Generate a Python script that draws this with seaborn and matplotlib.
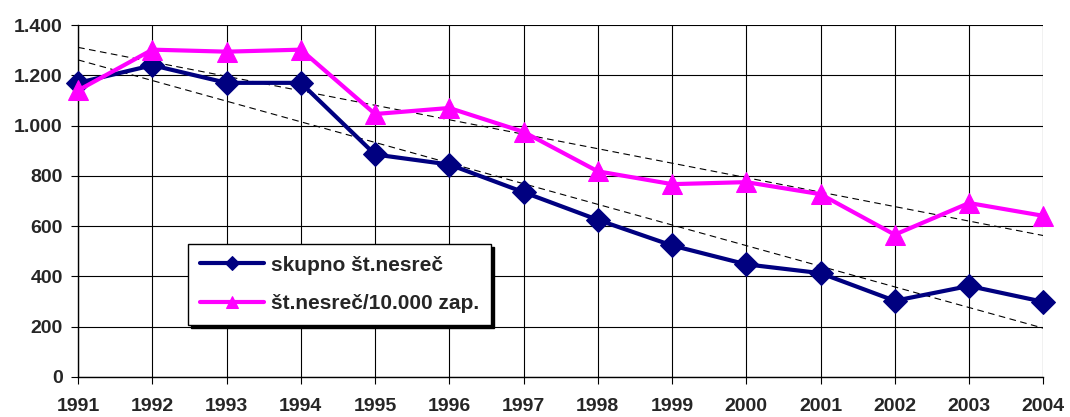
import numpy as np
import pandas as pd
import matplotlib
matplotlib.use("Agg")
import matplotlib.pyplot as plt
from matplotlib.ticker import FuncFormatter
import seaborn as sns

sns.set_style("white")
plt.rcParams['font.family'] = ['Liberation Sans', 'DejaVu Sans']

# data
years = [1991, 1992, 1993, 1994, 1995, 1996, 1997, 1998, 1999, 2000, 2001, 2002, 2003, 2004]
skupno = [1170, 1240, 1170, 1170, 885, 845, 735, 625, 523, 448, 413, 303, 362, 299]
na_10000 = [1140, 1302, 1294, 1302, 1046, 1070, 975, 818, 767, 775, 727, 566, 692, 641]
label_skupno = "skupno št.nesreč"
label_10000 = "št.nesreč/10.000 zap."

df = pd.DataFrame({"leto": years, label_skupno: skupno, label_10000: na_10000})

fig, ax = plt.subplots(figsize=(10.7, 4.17), dpi=100)
fig.subplots_adjust(left=0.073, right=0.975, top=0.94, bottom=0.096)

sns.lineplot(data=df, x="leto", y=label_skupno, ax=ax, color="#000080", lw=3,
             marker="D", markersize=12, markeredgecolor="#000080",
             label=label_skupno, clip_on=False, zorder=4)
sns.lineplot(data=df, x="leto", y=label_10000, ax=ax, color="#FF00FF", lw=3,
             marker="^", markersize=15, markeredgecolor="#FF00FF",
             label=label_10000, clip_on=False, zorder=4)

# linear trends
for series in (skupno, na_10000):
    k, n = np.polyfit(years, series, 1)
    xs = np.array([years[0], years[-1]])
    ax.plot(xs, k * xs + n, color="black", lw=0.8, ls=(0, (6, 4)), zorder=3)

ax.set_xlim(years[0], years[-1])
ax.set_ylim(0, 1400)
ax.set_xticks(years)
ax.set_yticks(range(0, 1401, 200))
ax.yaxis.set_major_formatter(FuncFormatter(lambda v, p: f"{int(v):,}".replace(",", ".")))
ax.grid(True, color="black", lw=0.8)
ax.set_axisbelow(True)
for side in ("top", "right"):
    ax.spines[side].set_visible(False)
for side in ("left", "bottom"):
    ax.spines[side].set_color("black")
    ax.spines[side].set_linewidth(1)
ax.tick_params(axis="both", labelsize=14, length=5, color="black", direction="out",
               left=True, bottom=True)
for lbl in ax.get_xticklabels() + ax.get_yticklabels():
    lbl.set_fontweight("bold")
ax.tick_params(axis="x", pad=10)
ax.tick_params(axis="y", pad=6)
ax.set_xlabel("")
ax.set_ylabel("")

leg = ax.legend(loc="lower left", bbox_to_anchor=(0.114, 0.148), borderaxespad=0,
                fancybox=False, edgecolor="black", framealpha=1,
                shadow={"color": "black", "alpha": 1},
                prop={"weight": "bold", "size": 15}, handlelength=3.1, markerscale=0.6,
                borderpad=0.55, labelspacing=0.95, handletextpad=0.35)
leg.get_frame().set_linewidth(1)

fig.savefig("out.png", dpi=100)
